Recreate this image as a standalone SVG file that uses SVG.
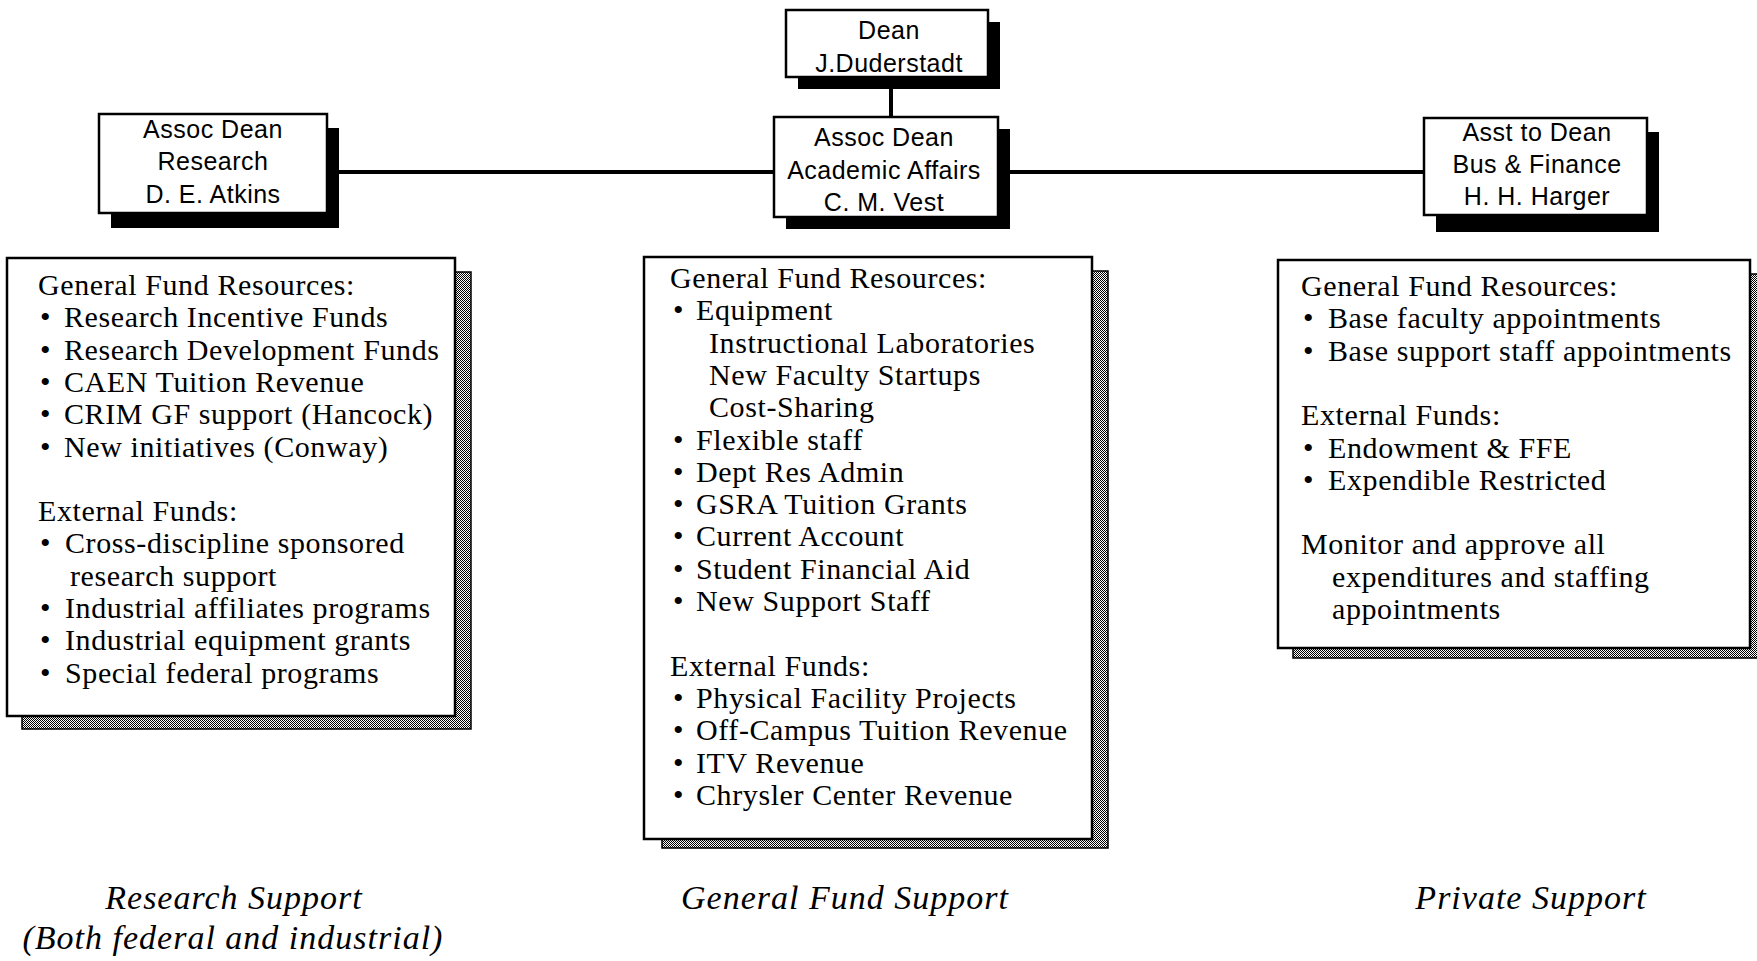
<svg xmlns="http://www.w3.org/2000/svg" width="1757" height="961" viewBox="0 0 1757 961">
<defs>
<pattern id="dither" width="2" height="2" patternUnits="userSpaceOnUse"><rect width="2" height="2" fill="#fff"/><rect width="1" height="1" fill="#000"/><rect x="1" y="1" width="1" height="1" fill="#000"/></pattern>
<style>
.box{fill:#fff;stroke:#000;stroke-width:2.5}
.sh{fill:#000}
.dsh{fill:url(#dither);stroke:#000;stroke-width:1.5}
.hd{font-family:"Liberation Sans",Arial,sans-serif;font-size:25px;letter-spacing:0.5px;text-anchor:middle;fill:#000}
.bd{font-family:"Liberation Serif","Times New Roman",serif;font-size:30px;letter-spacing:0.6px;fill:#000}
.cap{font-family:"Liberation Serif","Times New Roman",serif;font-size:34px;font-style:italic;letter-spacing:1px;text-anchor:middle;fill:#000}
.ln{stroke:#000;stroke-width:4;fill:none}
</style>
</defs>
<rect width="1757" height="961" fill="#fff"/>
<g id="connectors">
<line class="ln" x1="891" y1="77" x2="891" y2="118"/>
<line class="ln" x1="327" y1="172" x2="1424" y2="172"/>
</g>
<g id="dean">
<rect class="sh" x="798" y="22" width="202" height="67"/>
<rect class="box" x="786" y="10" width="202" height="67"/>
<text class="hd" x="889" y="39">Dean</text>
<text class="hd" x="889" y="72">J.Duderstadt</text>
</g>
<g id="assoc-research">
<rect class="sh" x="111" y="128" width="228" height="100"/>
<rect class="box" x="99" y="114" width="228" height="99"/>
<text class="hd" x="213" y="138">Assoc Dean</text>
<text class="hd" x="213" y="170">Research</text>
<text class="hd" x="213" y="203">D. E. Atkins</text>
</g>
<g id="assoc-academic">
<rect class="sh" x="786" y="129" width="224" height="100"/>
<rect class="box" x="774" y="117" width="224" height="100"/>
<text class="hd" x="884" y="146">Assoc Dean</text>
<text class="hd" x="884" y="179">Academic Affairs</text>
<text class="hd" x="884" y="211">C. M. Vest</text>
</g>
<g id="asst-finance">
<rect class="sh" x="1436" y="132" width="223" height="100"/>
<rect class="box" x="1424" y="118" width="223" height="97"/>
<text class="hd" x="1537" y="141">Asst to Dean</text>
<text class="hd" x="1537" y="173">Bus &amp; Finance</text>
<text class="hd" x="1537" y="205">H. H. Harger</text>
</g>
<g id="research-resources">
<rect class="dsh" x="22" y="272" width="449" height="457"/>
<rect class="box" x="7" y="258" width="448" height="458"/>
<text class="bd" x="38" y="295">General Fund Resources:</text>
<text class="bd" y="327.3"><tspan x="40">•</tspan><tspan x="64">Research Incentive Funds</tspan></text>
<text class="bd" y="359.6"><tspan x="40">•</tspan><tspan x="64">Research Development Funds</tspan></text>
<text class="bd" y="391.9"><tspan x="40">•</tspan><tspan x="64">CAEN Tuition Revenue</tspan></text>
<text class="bd" y="424.2"><tspan x="40">•</tspan><tspan x="64">CRIM GF support (Hancock)</tspan></text>
<text class="bd" y="456.5"><tspan x="40">•</tspan><tspan x="64">New initiatives (Conway)</tspan></text>
<text class="bd" x="38" y="521.1">External Funds:</text>
<text class="bd" y="553.4"><tspan x="40">•</tspan><tspan x="65">Cross-discipline sponsored</tspan></text>
<text class="bd" x="70" y="585.7">research support</text>
<text class="bd" y="618"><tspan x="40">•</tspan><tspan x="65">Industrial affiliates programs</tspan></text>
<text class="bd" y="650.3"><tspan x="40">•</tspan><tspan x="65">Industrial equipment grants</tspan></text>
<text class="bd" y="682.6"><tspan x="40">•</tspan><tspan x="65">Special federal programs</tspan></text>
</g>
<g id="general-resources">
<rect class="dsh" x="662" y="271" width="446" height="577"/>
<rect class="box" x="644" y="257" width="448" height="582"/>
<text class="bd" x="670" y="288">General Fund Resources:</text>
<text class="bd" y="320.3"><tspan x="673">•</tspan><tspan x="696">Equipment</tspan></text>
<text class="bd" x="709" y="352.6">Instructional Laboratories</text>
<text class="bd" x="709" y="384.9">New Faculty Startups</text>
<text class="bd" x="709" y="417.2">Cost-Sharing</text>
<text class="bd" y="449.5"><tspan x="673">•</tspan><tspan x="696">Flexible staff</tspan></text>
<text class="bd" y="481.8"><tspan x="673">•</tspan><tspan x="696">Dept Res Admin</tspan></text>
<text class="bd" y="514.1"><tspan x="673">•</tspan><tspan x="696">GSRA Tuition Grants</tspan></text>
<text class="bd" y="546.4"><tspan x="673">•</tspan><tspan x="696">Current Account</tspan></text>
<text class="bd" y="578.7"><tspan x="673">•</tspan><tspan x="696">Student Financial Aid</tspan></text>
<text class="bd" y="611"><tspan x="673">•</tspan><tspan x="696">New Support Staff</tspan></text>
<text class="bd" x="670" y="675.6">External Funds:</text>
<text class="bd" y="707.9"><tspan x="673">•</tspan><tspan x="696">Physical Facility Projects</tspan></text>
<text class="bd" y="740.2"><tspan x="673">•</tspan><tspan x="696">Off-Campus Tuition Revenue</tspan></text>
<text class="bd" y="772.5"><tspan x="673">•</tspan><tspan x="696">ITV Revenue</tspan></text>
<text class="bd" y="804.8"><tspan x="673">•</tspan><tspan x="696">Chrysler Center Revenue</tspan></text>
</g>
<g id="private-resources">
<rect class="dsh" x="1293" y="274" width="466" height="384"/>
<rect class="box" x="1278" y="260" width="472" height="388"/>
<text class="bd" x="1301" y="296">General Fund Resources:</text>
<text class="bd" y="328.3"><tspan x="1303">•</tspan><tspan x="1328">Base faculty appointments</tspan></text>
<text class="bd" y="360.6"><tspan x="1303">•</tspan><tspan x="1328">Base support staff appointments</tspan></text>
<text class="bd" x="1301" y="425.2">External Funds:</text>
<text class="bd" y="457.5"><tspan x="1303">•</tspan><tspan x="1328">Endowment &amp; FFE</tspan></text>
<text class="bd" y="489.8"><tspan x="1303">•</tspan><tspan x="1328">Expendible Restricted</tspan></text>
<text class="bd" x="1301" y="554.4">Monitor and approve all</text>
<text class="bd" x="1332" y="586.7">expenditures and staffing</text>
<text class="bd" x="1332" y="619">appointments</text>
</g>
<g id="captions">
<text class="cap" x="234" y="909">Research Support</text>
<text class="cap" x="233" y="949">(Both federal and industrial)</text>
<text class="cap" x="845" y="909">General Fund Support</text>
<text class="cap" x="1531" y="909">Private Support</text>
</g>
</svg>
